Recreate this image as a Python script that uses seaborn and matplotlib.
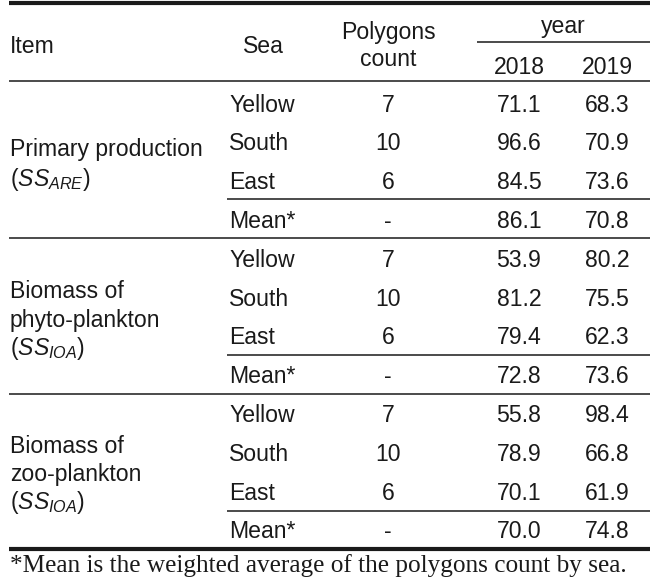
import matplotlib
matplotlib.use("Agg")
import matplotlib.pyplot as plt
import seaborn as sns

sns.set_theme(style="white")
plt.rcParams["font.family"] = ["Liberation Sans", "DejaVu Sans"]
plt.rcParams["mathtext.fontset"] = "custom"
plt.rcParams["mathtext.rm"] = "Liberation Sans"
plt.rcParams["mathtext.it"] = "Liberation Sans:italic"

# ---- data ----
item_lines = [
    ["Primary production", r"($\mathit{SS}_{\mathit{ARE}}$)"],
    ["Biomass of", "phyto-plankton", r"($\mathit{SS}_{\mathit{IOA}}$)"],
    ["Biomass of", "zoo-plankton", r"($\mathit{SS}_{\mathit{IOA}}$)"],
]
seas = ["Yellow", "South", "East", "Mean*"]
counts = ["7", "10", "6", "-"]
v2018 = [[71.1, 96.6, 84.5, 86.1],
         [53.9, 81.2, 79.4, 72.8],
         [55.8, 78.9, 70.1, 70.0]]
v2019 = [[68.3, 70.9, 73.6, 70.8],
         [80.2, 75.5, 62.3, 73.6],
         [98.4, 66.8, 61.9, 74.8]]
years = ["2018", "2019"]
footnote = "*Mean is the weighted average of the polygons count by sea."

# ---- figure ----
W, H = 662, 586
fig = plt.figure(figsize=(W / 100, H / 100), dpi=100)
ax = fig.add_axes([0, 0, 1, 1])
ax.set_xlim(0, W)
ax.set_ylim(H, 0)
ax.axis("off")

FS = 16.6
col = "#1a1a1a"
X0, X1 = 9, 650

# rules
ax.hlines(3, X0, X1, color=col, lw=3.0)
ax.hlines(42, 477, X1, color=col, lw=1.1)
ax.hlines(81, X0, X1, color=col, lw=1.1)
ax.hlines(549, X0, X1, color=col, lw=3.0)

# header
ax.text(10, 53, "Item", fontsize=FS, color=col, va="baseline", ha="left")
ax.text(263, 53, "Sea", fontsize=FS, color=col, va="baseline", ha="center")
ax.text(388, 39, "Polygons", fontsize=FS, color=col, va="baseline", ha="center")
ax.text(388, 66, "count", fontsize=FS, color=col, va="baseline", ha="center")
ax.text(563, 33, "year", fontsize=FS, color=col, va="baseline", ha="center")
ycols = [519, 607]
for yx, ylab in zip(ycols, years):
    ax.text(yx, 74, ylab, fontsize=FS, color=col, va="baseline", ha="center")

# body
item_base = [[156, 186], [298, 327, 355], [453, 481, 509]]
k = 0
for g in range(3):
    for line, yb in zip(item_lines[g], item_base[g]):
        ax.text(10, yb, line, fontsize=FS, color=col, va="baseline", ha="left")
    for r in range(4):
        yb = 111.5 + 38.8 * k
        ax.text(229, yb, seas[r], fontsize=FS, color=col, va="baseline", ha="left")
        ax.text(388, yb, counts[r], fontsize=FS, color=col, va="baseline", ha="center")
        ax.text(ycols[0], yb, f"{v2018[g][r]:.1f}", fontsize=FS, color=col,
                va="baseline", ha="center")
        ax.text(ycols[1], yb, f"{v2019[g][r]:.1f}", fontsize=FS, color=col,
                va="baseline", ha="center")
        k += 1
    ax.hlines(198.5 + 156 * g, 227, X1, color=col, lw=1.1)
    if g < 2:
        ax.hlines(237.5 + 156 * g, X0, X1, color=col, lw=1.1)

ax.text(10, 572, footnote, fontsize=18.2, color=col, va="baseline", ha="left",
        family=["Liberation Serif", "DejaVu Serif"])

fig.savefig("out.png", dpi=100, facecolor="white")
